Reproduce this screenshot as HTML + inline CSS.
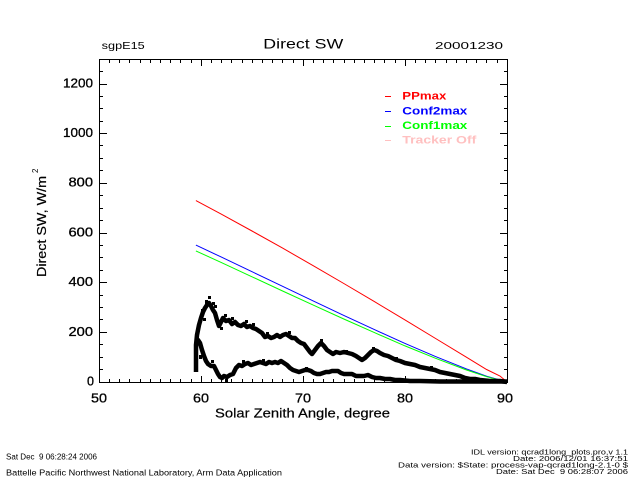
<!DOCTYPE html>
<html><head><meta charset="utf-8"><style>
html,body{margin:0;padding:0;background:#fff;}
svg{display:block;}
text{font-family:"Liberation Sans",sans-serif;fill:#000;}
</style></head><body>
<svg width="640" height="480" viewBox="0 0 640 480" xmlns="http://www.w3.org/2000/svg">
<rect x="0" y="0" width="640" height="480" fill="#fff"/>

<!-- header -->
<text x="101.7" y="48.8" font-size="10.5" textLength="43" lengthAdjust="spacingAndGlyphs">sgpE15</text>
<text x="263.3" y="48.5" font-size="14" textLength="80" lengthAdjust="spacingAndGlyphs">Direct SW</text>
<text x="435" y="48.8" font-size="10.5" textLength="68" lengthAdjust="spacingAndGlyphs">20001230</text>

<!-- data lines -->
<polyline fill="none" stroke="#ff0000" stroke-width="1" points="195.9,200.6 221.4,214.2 252,231 282.6,248.1 313.2,265.7 343.8,283.5 374.4,301.6 405,319.9 435.6,338.5 466.2,357.1 486.6,369.5 500,376 507,382"/>
<polyline fill="none" stroke="#0000ff" stroke-width="1" points="195.9,245.1 221.4,257.1 252,271.7 282.6,286.3 313.2,300.9 343.8,315.4 374.4,329.6 405,343.4 435.6,356.6 466.2,368.8 486.6,376.2 507,382"/>
<polyline fill="none" stroke="#00ff00" stroke-width="1" points="195.9,250.9 221.4,262.6 252,276.8 282.6,291 313.2,305.1 343.8,319 374.4,332.6 405,345.9 435.6,358.3 466.2,369.9 486.6,376.7 507,382"/>

<!-- black data (upper branch) -->
<polyline fill="none" stroke="#000" stroke-width="4.5" stroke-linejoin="round" points="196,372 196,345 197,335 199,325 201,318 203,312 205,308 207,305 209,303 211,306 213,310 215,313 217,320 219,326 221,322 223,318 226,321 229,320 232,324 235,322 238,325 241,326 244,324 247,327 250,326 253,328 256,329 259,331 262,333 265,337 268,336 271,338 274,337 277,335 280,337 283,335 286,334 289,336 292,338 295,338 298,341 301,343 304,344 307,348 310,352 312,354 315,350 318,346 321,343 324,346 327,350 330,352 333,354 336,352 340,353 344,352 348,353 352,354 356,356 359,358 362,360 365,358 368,355 371,352 374,350 377,351 380,353 384,355 388,356 392,358 396,360 400,361 405,363 410,364 415,365 420,367 425,368 430,369 435,370 440,372 445,373 450,374 455,375 460,376 465,378 470,379 475,379 480,380 490,381 500,381 507,382"/>
<!-- black data (lower branch) -->
<polyline fill="none" stroke="#000" stroke-width="4.5" stroke-linejoin="round" points="196,345 198,340 200,343 202,350 204,356 206,361 208,364 211,366 214,366 216,370 218,374 220,377 222,378 224,376 227,377 230,375 233,374 236,368 239,365 242,366 245,364 248,363 251,365 254,364 257,363 260,362 263,363 266,364 269,362 272,363 275,362 278,363 281,361 284,363 287,365 290,368 293,370 296,371 299,372 302,371 305,370 308,370 311,371 314,373 317,374 320,374 323,373 326,372 329,372 332,371 335,371 338,371 341,373 344,374 348,374 352,374 356,376 360,376 364,376 368,375 372,377 376,378 380,378 385,379 390,379 395,380 400,380 410,381 420,381 440,381.5 507,381.5"/>
<!-- jitter blobs -->
<g fill="#000">
<rect x="205" y="300" width="3" height="4"/><rect x="212" y="302" width="3" height="3"/><rect x="203" y="318" width="3" height="3"/>
<rect x="208" y="296" width="3" height="3"/><rect x="214" y="305" width="3" height="3"/><rect x="201" y="309" width="3" height="3"/>
<rect x="220" y="327" width="3" height="3"/><rect x="224" y="314" width="3" height="3"/><rect x="231" y="317" width="3" height="3"/>
<rect x="245" y="320" width="3" height="3"/><rect x="252" y="323" width="3" height="3"/><rect x="266" y="332" width="3" height="3"/>
<rect x="242" y="360" width="3" height="3"/><rect x="320" y="339" width="3" height="3"/><rect x="288" y="331" width="3" height="3"/>
<rect x="372" y="347" width="3" height="3"/><rect x="199" y="355" width="3" height="4"/><rect x="225" y="379" width="3" height="3"/>
<rect x="211" y="360" width="3" height="3"/><rect x="262" y="359" width="3" height="3"/><rect x="305" y="367" width="3" height="3"/>
<rect x="345" y="350" width="3" height="3"/><rect x="395" y="357" width="3" height="3"/><rect x="430" y="366" width="3" height="3"/>
</g>

<!-- axes box and ticks -->
<g stroke="#000" stroke-width="1" fill="none" shape-rendering="crispEdges">
<rect x="99.5" y="59.5" width="408" height="323"/>
<path d="M99 382.5H107M99 332.5H107M99 282.5H107M99 233.5H107M99 183.5H107M99 133.5H107M99 84.5H107
M99 369.5H103M99 357.5H103M99 344.5H103M99 319.5H103M99 307.5H103M99 295.5H103M99 270.5H103M99 257.5H103M99 245.5H103M99 220.5H103M99 208.5H103M99 195.5H103M99 170.5H103M99 158.5H103M99 145.5H103M99 121.5H103M99 108.5H103M99 96.5H103M99 71.5H103
M508 382.5H500M508 332.5H500M508 282.5H500M508 233.5H500M508 183.5H500M508 133.5H500M508 84.5H500
M508 369.5H504M508 357.5H504M508 344.5H504M508 319.5H504M508 307.5H504M508 295.5H504M508 270.5H504M508 257.5H504M508 245.5H504M508 220.5H504M508 208.5H504M508 195.5H504M508 170.5H504M508 158.5H504M508 145.5H504M508 121.5H504M508 108.5H504M508 96.5H504M508 71.5H504"/>
<path d="M201.5 383V376M303.5 383V376M405.5 383V376
M109.5 383V379M119.5 383V379M129.5 383V379M140.5 383V379M150.5 383V379M160.5 383V379M170.5 383V379M180.5 383V379M191.5 383V379
M211.5 383V379M221.5 383V379M231.5 383V379M242.5 383V379M252.5 383V379M262.5 383V379M272.5 383V379M282.5 383V379M293.5 383V379
M313.5 383V379M323.5 383V379M333.5 383V379M344.5 383V379M354.5 383V379M364.5 383V379M374.5 383V379M384.5 383V379M395.5 383V379
M415.5 383V379M425.5 383V379M435.5 383V379M446.5 383V379M456.5 383V379M466.5 383V379M476.5 383V379M486.5 383V379M497.5 383V379
M201.5 59V66M303.5 59V66M405.5 59V66
M109.5 59V63M119.5 59V63M129.5 59V63M140.5 59V63M150.5 59V63M160.5 59V63M170.5 59V63M180.5 59V63M191.5 59V63
M211.5 59V63M221.5 59V63M231.5 59V63M242.5 59V63M252.5 59V63M262.5 59V63M272.5 59V63M282.5 59V63M293.5 59V63
M313.5 59V63M323.5 59V63M333.5 59V63M344.5 59V63M354.5 59V63M364.5 59V63M374.5 59V63M384.5 59V63M395.5 59V63
M415.5 59V63M425.5 59V63M435.5 59V63M446.5 59V63M456.5 59V63M466.5 59V63M476.5 59V63M486.5 59V63M497.5 59V63"/>
</g>

<!-- y tick labels -->
<g font-size="13" style="stroke:#000;stroke-width:0.3">
<text x="63" y="87.3" textLength="30" lengthAdjust="spacingAndGlyphs">1200</text>
<text x="63" y="137" textLength="30" lengthAdjust="spacingAndGlyphs">1000</text>
<text x="68.5" y="186.7" textLength="24.5" lengthAdjust="spacingAndGlyphs">800</text>
<text x="68.5" y="236.4" textLength="24.5" lengthAdjust="spacingAndGlyphs">600</text>
<text x="68.5" y="286.1" textLength="24.5" lengthAdjust="spacingAndGlyphs">400</text>
<text x="68.5" y="335.8" textLength="24.5" lengthAdjust="spacingAndGlyphs">200</text>
<text x="87" y="385.5" textLength="7" lengthAdjust="spacingAndGlyphs">0</text>
</g>
<!-- x tick labels -->
<g font-size="13" style="stroke:#000;stroke-width:0.3">
<text x="91" y="402.7" textLength="16" lengthAdjust="spacingAndGlyphs">50</text>
<text x="193" y="402.7" textLength="16" lengthAdjust="spacingAndGlyphs">60</text>
<text x="295" y="402.7" textLength="16" lengthAdjust="spacingAndGlyphs">70</text>
<text x="397" y="402.7" textLength="16" lengthAdjust="spacingAndGlyphs">80</text>
<text x="497" y="402.7" textLength="16" lengthAdjust="spacingAndGlyphs">90</text>
</g>
<text x="215" y="417.5" font-size="13" textLength="175" lengthAdjust="spacingAndGlyphs" style="stroke:#000;stroke-width:0.2">Solar Zenith Angle, degree</text>

<!-- y axis title -->
<g transform="translate(46,277) rotate(-90)">
<text x="0" y="0" font-size="13" textLength="101" lengthAdjust="spacingAndGlyphs" style="stroke:#000;stroke-width:0.2">Direct SW, W/m</text>
<text x="104" y="-8" font-size="8">2</text>
</g>

<!-- legend -->
<g>
<rect x="385" y="96" width="6" height="1" fill="#ff0000"/>
<rect x="385" y="111" width="6" height="1" fill="#0000ff"/>
<rect x="385" y="126" width="6" height="1" fill="#00ff00"/>
<rect x="385" y="140" width="6" height="1" fill="#ffc0c0"/>
</g>
<g font-size="11" font-weight="bold">
<text x="402.3" y="99.5" textLength="44" lengthAdjust="spacingAndGlyphs" style="fill:#ff0000">PPmax</text>
<text x="402.3" y="114.5" textLength="65" lengthAdjust="spacingAndGlyphs" style="fill:#0000ff">Conf2max</text>
<text x="402.3" y="129" textLength="65" lengthAdjust="spacingAndGlyphs" style="fill:#00ff00">Conf1max</text>
<text x="402.3" y="143.5" textLength="74" lengthAdjust="spacingAndGlyphs" style="fill:#ffc0c0">Tracker Off</text>
</g>

<!-- footer left -->
<g font-size="8">
<text x="6" y="459.5" textLength="91" lengthAdjust="spacingAndGlyphs">Sat Dec &#160;9 06:28:24 2006</text>
<text x="6" y="475.5" textLength="276" lengthAdjust="spacingAndGlyphs">Battelle Pacific Northwest National Laboratory, Arm Data Application</text>
</g>
<!-- footer right -->
<g font-size="7.5">
<text x="471" y="454.5" textLength="157" lengthAdjust="spacingAndGlyphs">IDL version: qcrad1long_plots.pro,v 1.1</text>
<text x="513" y="461" textLength="115" lengthAdjust="spacingAndGlyphs">Date: 2006/12/01 16:37:51</text>
<text x="398" y="467.5" textLength="230" lengthAdjust="spacingAndGlyphs">Data version: $State: process-vap-qcrad1long-2.1-0 $</text>
<text x="496" y="474" textLength="132" lengthAdjust="spacingAndGlyphs">Date: Sat Dec &#160;9 06:28:07 2006</text>
</g>
</svg>
</body></html>
